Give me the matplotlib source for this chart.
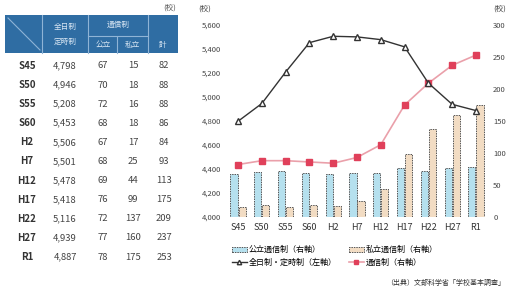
import matplotlib
matplotlib.use("Agg")
import matplotlib.pyplot as plt
from matplotlib.patches import Rectangle
from matplotlib.lines import Line2D
import numpy as np

plt.rcParams['font.family'] = ['Noto Sans CJK JP', 'DejaVu Sans']

years = ["S45", "S50", "S55", "S60", "H2", "H7", "H12", "H17", "H22", "H27", "R1"]
fulltime = [4798, 4946, 5208, 5453, 5506, 5501, 5478, 5418, 5116, 4939, 4887]
public_corr = [67, 70, 72, 68, 67, 68, 69, 76, 72, 77, 78]
private_corr = [15, 18, 16, 18, 17, 25, 44, 99, 137, 160, 175]
total_corr = [82, 88, 88, 86, 84, 93, 113, 175, 209, 237, 253]

W, H = 527, 291
fig = plt.figure(figsize=(W/100, H/100), dpi=100)

def fx(px): return px / W
def fy(py): return 1 - py / H

# ---------- table ----------
hdr = '#2f6da3'
fig.patches.append(Rectangle((fx(5), fy(53)), fx(173), 38/H, transform=fig.transFigure,
                             facecolor=hdr, edgecolor='none'))
lc = '#8fb4d6'
def fl(x0, y0, x1, y1):
    fig.lines.append(Line2D([fx(x0), fx(x1)], [fy(y0), fy(y1)], transform=fig.transFigure,
                            color=lc, lw=0.8))
fl(8, 18, 40, 50)
fl(42, 15, 42, 53)
fl(88, 15, 88, 53)
fl(88, 36, 148, 36)
fl(117, 37, 117, 53)
fl(148, 15, 148, 53)
tc = '#d8e6f3'
fig.text(fx(65), fy(27), "全日制", color=tc, fontsize=5.5, ha='center', va='center')
fig.text(fx(65), fy(42), "定時制", color=tc, fontsize=5.5, ha='center', va='center')
fig.text(fx(118), fy(25), "通信制", color=tc, fontsize=5.5, ha='center', va='center')
fig.text(fx(103), fy(45), "公立", color=tc, fontsize=5.5, ha='center', va='center')
fig.text(fx(132), fy(45), "私立", color=tc, fontsize=5.5, ha='center', va='center')
fig.text(fx(163), fy(45), "計", color=tc, fontsize=5.5, ha='center', va='center')
fig.text(fx(176), fy(8), "(校)", color='#555555', fontsize=5.5, ha='right', va='center')

row_y0, row_dy = 66, 19.1
for i, yr in enumerate(years):
    y = fy(row_y0 + i * row_dy)
    fig.text(fx(27), y, yr, fontsize=7, fontweight='bold', color='#333333', ha='center', va='center')
    fig.text(fx(65), y, f"{fulltime[i]:,}", fontsize=6.8, color='#444444', ha='center', va='center')
    fig.text(fx(103), y, str(public_corr[i]), fontsize=6.8, color='#444444', ha='center', va='center')
    fig.text(fx(133), y, str(private_corr[i]), fontsize=6.8, color='#444444', ha='center', va='center')
    fig.text(fx(164), y, str(total_corr[i]), fontsize=6.8, color='#444444', ha='center', va='center')

# ---------- chart ----------
ax = fig.add_axes([fx(225), fy(217), fx(489) - fx(225), (217 - 25) / H])
ax2 = ax.twinx()
x = np.arange(len(years))
bw = 0.3
b1 = ax2.bar(x - bw/2 - 0.02, public_corr, bw, color='#b5e0ee', edgecolor='#555555', linewidth=0.7,
             linestyle=(0, (1.5, 1)), label='公立通信制（右軸）', zorder=2)
b2 = ax2.bar(x + bw/2 + 0.02, private_corr, bw, color='#f2dcc3', edgecolor='#555555', linewidth=0.7,
             linestyle=(0, (1.5, 1)), label='私立通信制（右軸）', zorder=2)
l2, = ax2.plot(x, total_corr, color='#eaa0aa', lw=1.2, marker='s', markersize=4,
               markerfacecolor='#e0405a', markeredgecolor='#e0405a', label='通信制（右軸）', zorder=3)
l1, = ax.plot(x, fulltime, color='#333333', lw=1.0, marker='^', markersize=4,
              markerfacecolor='white', markeredgecolor='#333333', label='全日制・定時制（左軸）', zorder=3)

ax.set_zorder(ax2.get_zorder() + 1)
ax.patch.set_visible(False)

ax.set_xlim(-0.55, 10.55)
ax.set_ylim(4000, 5600)
ax2.set_ylim(0, 300)
ax.set_yticks(range(4000, 5601, 200))
ax.set_yticklabels([f"{v:,}" for v in range(4000, 5601, 200)], fontsize=5.5, color='#444444')
ax2.set_yticks(range(0, 301, 50))
ax2.set_yticklabels([str(v) for v in range(0, 301, 50)], fontsize=5.5, color='#444444')
ax.set_xticks(x)
ax.set_xticklabels(years, fontsize=6.5, color='#333333')
for a in (ax, ax2):
    for s in a.spines.values():
        s.set_visible(False)
    a.tick_params(length=0, pad=3)
ax.tick_params(axis='x', pad=4)

fig.text(fx(205), fy(9), "(校)", fontsize=5.5, color='#444444', ha='center', va='center')
fig.text(fx(500), fy(9), "(校)", fontsize=5.5, color='#444444', ha='center', va='center')

handles = [b1, l1, b2, l2]
labels = [h.get_label() for h in handles]
fig.legend(handles, labels, loc='center', bbox_to_anchor=(fx(335), fy(256)), ncol=2,
           fontsize=5.8, frameon=False, handlelength=1.8, handletextpad=0.3,
           columnspacing=1.5, labelspacing=0.4, markerscale=0.8)

fig.text(fx(505), fy(283), "（出典）文部科学省「学校基本調査」", fontsize=5, color='#333333',
         ha='right', va='center')

fig.savefig("out.png", dpi=100)
